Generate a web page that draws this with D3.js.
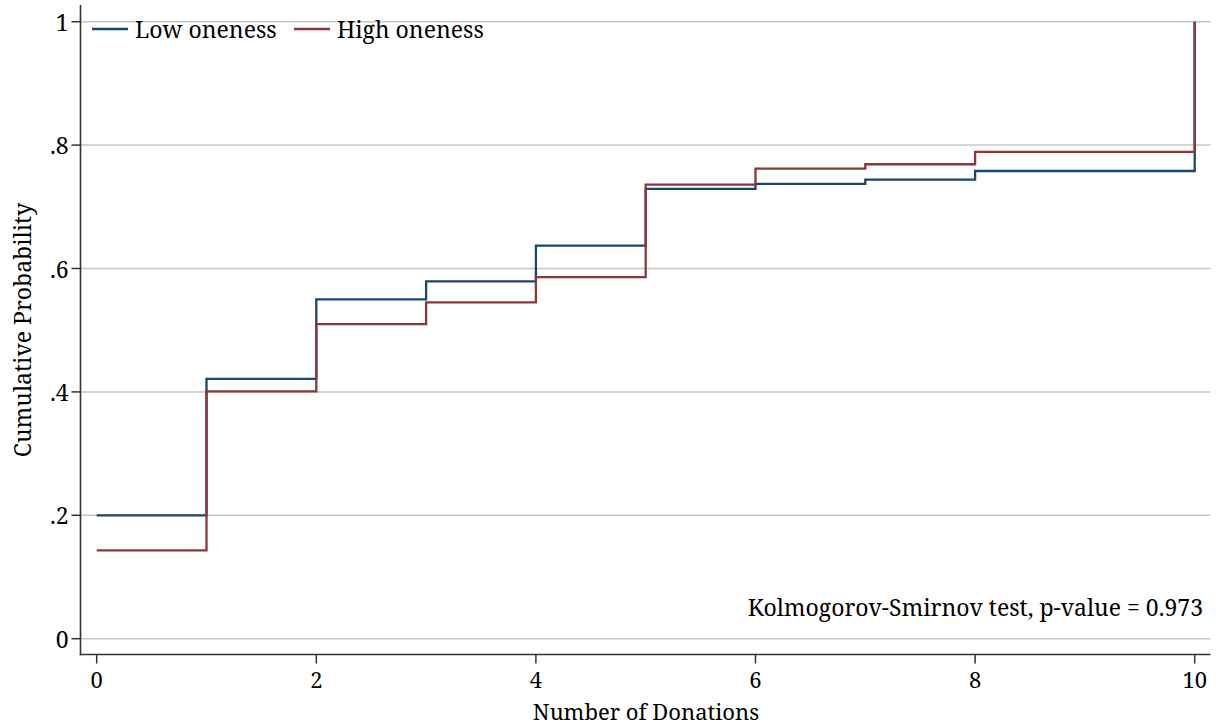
<!DOCTYPE html>
<html><head><meta charset="utf-8">
<script src="https://cdn.jsdelivr.net/npm/d3@7"></script>
<style>
body{margin:0;background:#fff}
text{font-family:"Noto Serif","DejaVu Serif",serif;fill:#000}
</style>
</head><body>
<svg id="c" width="1223" height="726"></svg>
<script>
// ---- data ----
const donations = [0, 1, 2, 3, 4, 5, 6, 7, 8, 10];
const lowOneness  = [0.200, 0.421, 0.550, 0.579, 0.637, 0.729, 0.737, 0.744, 0.758, 1.0];
const highOneness = [0.143, 0.401, 0.510, 0.545, 0.586, 0.736, 0.762, 0.769, 0.789, 1.0];
const xTicks = [0, 2, 4, 6, 8, 10];
const yTicks = [0, 0.2, 0.4, 0.6, 0.8, 1];
const yTickLabels = ["0", ".2", ".4", ".6", ".8", "1"];
const seriesNames = ["Low oneness", "High oneness"];
const seriesColors = ["#1a476f", "#90353b"];
const note = "Kolmogorov-Smirnov test, p-value = 0.973";

// ---- layout ----
const svg = d3.select("#c");
const FS = 23, FSX = 22;
const x = d3.scaleLinear().domain([0, 10]).range([96.7, 1194.7]);
const y = d3.scaleLinear().domain([0, 1]).range([638.7, 21.7]);
const plotLeft = 80.5, plotRight = 1210.5, axisBottom = 654.5, axisTop = 5;

// gridlines
svg.append("g").selectAll("line").data(yTicks).join("line")
  .attr("x1", plotLeft).attr("x2", plotRight)
  .attr("y1", d => y(d)).attr("y2", d => y(d))
  .attr("stroke", "#c6c6c6").attr("stroke-width", 1.5);

// axis lines
svg.append("line").attr("x1", plotLeft).attr("x2", plotLeft).attr("y1", axisTop).attr("y2", axisBottom + 0.75)
  .attr("stroke", "#333").attr("stroke-width", 1.6);
svg.append("line").attr("x1", plotLeft - 0.75).attr("x2", plotRight).attr("y1", axisBottom).attr("y2", axisBottom)
  .attr("stroke", "#333").attr("stroke-width", 1.6);

// y ticks
const yAxis = svg.append("g");
yAxis.selectAll("line").data(yTicks).join("line")
  .attr("x1", plotLeft - 9).attr("x2", plotLeft)
  .attr("y1", d => y(d)).attr("y2", d => y(d))
  .attr("stroke", "#333").attr("stroke-width", 1.5);
yAxis.selectAll("text").data(yTicks).join("text")
  .attr("x", plotLeft - 12).attr("y", d => y(d))
  .attr("text-anchor", "end").attr("dominant-baseline", "central")
  .style("font-size", FS + "px")
  .text((d, i) => yTickLabels[i]);

// x ticks
const xAxis = svg.append("g");
xAxis.selectAll("line").data(xTicks).join("line")
  .attr("x1", d => x(d)).attr("x2", d => x(d))
  .attr("y1", axisBottom).attr("y2", axisBottom + 9)
  .attr("stroke", "#333").attr("stroke-width", 1.5);
xAxis.selectAll("text").data(xTicks).join("text")
  .attr("x", d => x(d)).attr("y", 688)
  .attr("text-anchor", "middle")
  .style("font-size", FSX + "px")
  .text(d => d);

// axis titles
svg.append("text").attr("x", 646).attr("y", 720).attr("text-anchor", "middle")
  .style("font-size", FSX + "px").text("Number of Donations");
svg.append("text").attr("transform", "translate(31,330) rotate(-90)").attr("text-anchor", "middle")
  .style("font-size", FS + "px").text("Cumulative Probability");

// step lines
const line = d3.line().x(d => x(d[0])).y(d => y(d[1])).curve(d3.curveStepAfter);
[lowOneness, highOneness].forEach((vals, i) => {
  svg.append("path")
    .attr("d", line(donations.map((d, j) => [d, vals[j]])))
    .attr("fill", "none").attr("stroke", seriesColors[i]).attr("stroke-width", 2.3);
});

// legend
const legendX = [92, 294];
seriesNames.forEach((name, i) => {
  svg.append("line").attr("x1", legendX[i]).attr("x2", legendX[i] + 36)
    .attr("y1", 29).attr("y2", 29)
    .attr("stroke", seriesColors[i]).attr("stroke-width", 2.3);
  svg.append("text").attr("x", legendX[i] + 43).attr("y", 38)
    .style("font-size", FS + "px").text(name);
});

// note
svg.append("text").attr("x", 1203).attr("y", 616).attr("text-anchor", "end")
  .style("font-size", FS + "px").text(note);
</script>
</body></html>
